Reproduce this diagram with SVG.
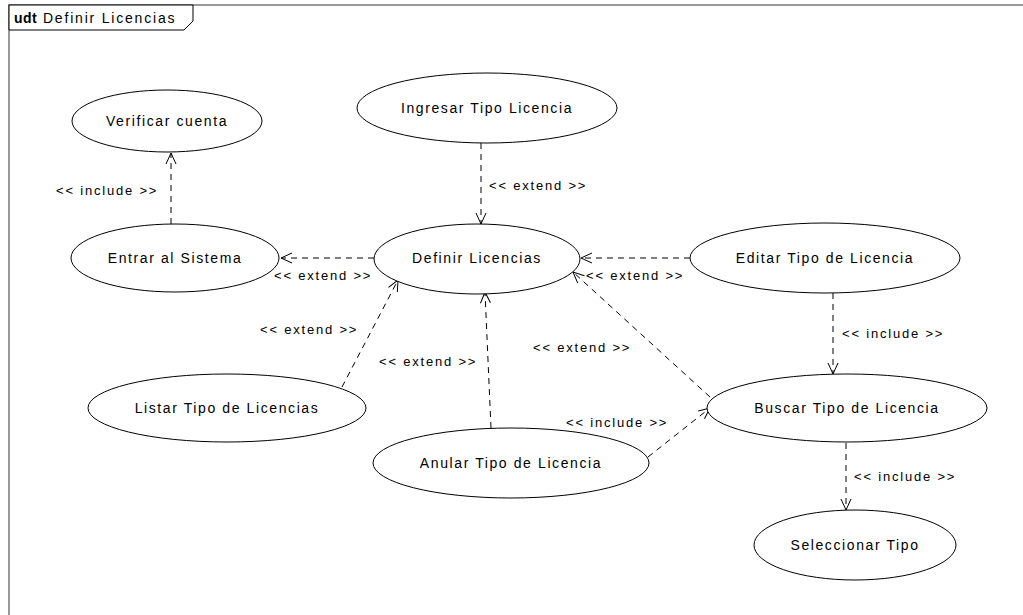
<svg xmlns="http://www.w3.org/2000/svg" width="1023" height="615" viewBox="0 0 1023 615">
<style>
.uc{fill:#fff;stroke:#000;stroke-width:1}
.t{font-family:"Liberation Sans",Arial,sans-serif;font-size:14px;letter-spacing:1.6px;fill:#000;text-anchor:middle}
.lb{font-family:"Liberation Sans",Arial,sans-serif;font-size:13px;letter-spacing:1.8px;fill:#000}
.dep{fill:none;stroke:#000;stroke-width:1;stroke-dasharray:6,5;marker-end:url(#open)}
</style>
<defs>
<marker id="open" viewBox="-12 -6 13 12" refX="0" refY="0" markerWidth="13" markerHeight="12" markerUnits="userSpaceOnUse" orient="auto">
<path d="M-11,-5 L0,0 L-11,5" fill="none" stroke="#000" stroke-width="1"/>
</marker>
</defs>
<rect width="1023" height="615" fill="#fff"/>
<g id="frame">
<path d="M9,615 V5 H1023" fill="none" stroke="#999" stroke-width="2"/>
<path d="M9,5 H193 V21 L184,30 H9 Z" fill="#fff" stroke="#000" stroke-width="1"/>
<text x="14" y="23" font-family="Liberation Sans,Arial,sans-serif" font-size="14px" letter-spacing="1.8px"><tspan font-weight="bold" letter-spacing="0.5px">udt</tspan> Definir Licencias</text>
</g>
<g id="connectors">
<line class="dep" x1="171" y1="224" x2="171" y2="153"/>
<line class="dep" x1="374" y1="258" x2="281" y2="258"/>
<line class="dep" x1="481" y1="143" x2="481" y2="224"/>
<line class="dep" x1="690" y1="258" x2="581" y2="258"/>
<line class="dep" x1="710" y1="397" x2="573" y2="272"/>
<line class="dep" x1="342" y1="387" x2="398" y2="280"/>
<line class="dep" x1="491" y1="428" x2="485" y2="292"/>
<line class="dep" x1="648" y1="457" x2="710" y2="408"/>
<line class="dep" x1="833" y1="293" x2="833" y2="374"/>
<line class="dep" x1="846" y1="443" x2="846" y2="510"/>
<text class="lb" x="56" y="195">&lt;&lt; include &gt;&gt;</text>
<text class="lb" x="274" y="280">&lt;&lt; extend &gt;&gt;</text>
<text class="lb" x="489" y="190">&lt;&lt; extend &gt;&gt;</text>
<text class="lb" x="586" y="280">&lt;&lt; extend &gt;&gt;</text>
<text class="lb" x="533" y="352">&lt;&lt; extend &gt;&gt;</text>
<text class="lb" x="260" y="334">&lt;&lt; extend &gt;&gt;</text>
<text class="lb" x="379" y="366">&lt;&lt; extend &gt;&gt;</text>
<text class="lb" x="566" y="427">&lt;&lt; include &gt;&gt;</text>
<text class="lb" x="842" y="338">&lt;&lt; include &gt;&gt;</text>
<text class="lb" x="854" y="481">&lt;&lt; include &gt;&gt;</text>
</g>
<g id="verificar"><ellipse class="uc" cx="167" cy="121" rx="95" ry="31"/><text class="t" x="167" y="126">Verificar cuenta</text></g>
<g id="ingresar"><ellipse class="uc" cx="487" cy="108" rx="130" ry="35"/><text class="t" x="487" y="113">Ingresar Tipo Licencia</text></g>
<g id="entrar"><ellipse class="uc" cx="175" cy="258" rx="104" ry="34"/><text class="t" x="175" y="263">Entrar al Sistema</text></g>
<g id="definir"><ellipse class="uc" cx="477" cy="259" rx="103" ry="35"/><text class="t" x="477" y="263">Definir  Licencias</text></g>
<g id="editar"><ellipse class="uc" cx="825" cy="258" rx="135" ry="35"/><text class="t" x="825" y="263">Editar Tipo de Licencia</text></g>
<g id="buscar"><ellipse class="uc" cx="847" cy="408" rx="140" ry="34"/><text class="t" x="847" y="413">Buscar Tipo de Licencia</text></g>
<g id="listar"><ellipse class="uc" cx="227" cy="408" rx="139" ry="34"/><text class="t" x="227" y="413">Listar Tipo de Licencias</text></g>
<g id="anular"><ellipse class="uc" cx="511" cy="463" rx="138" ry="35"/><text class="t" x="511" y="468">Anular Tipo de Licencia</text></g>
<g id="seleccionar"><ellipse class="uc" cx="855" cy="545" rx="101" ry="35"/><text class="t" x="855" y="550">Seleccionar Tipo</text></g>
</svg>
